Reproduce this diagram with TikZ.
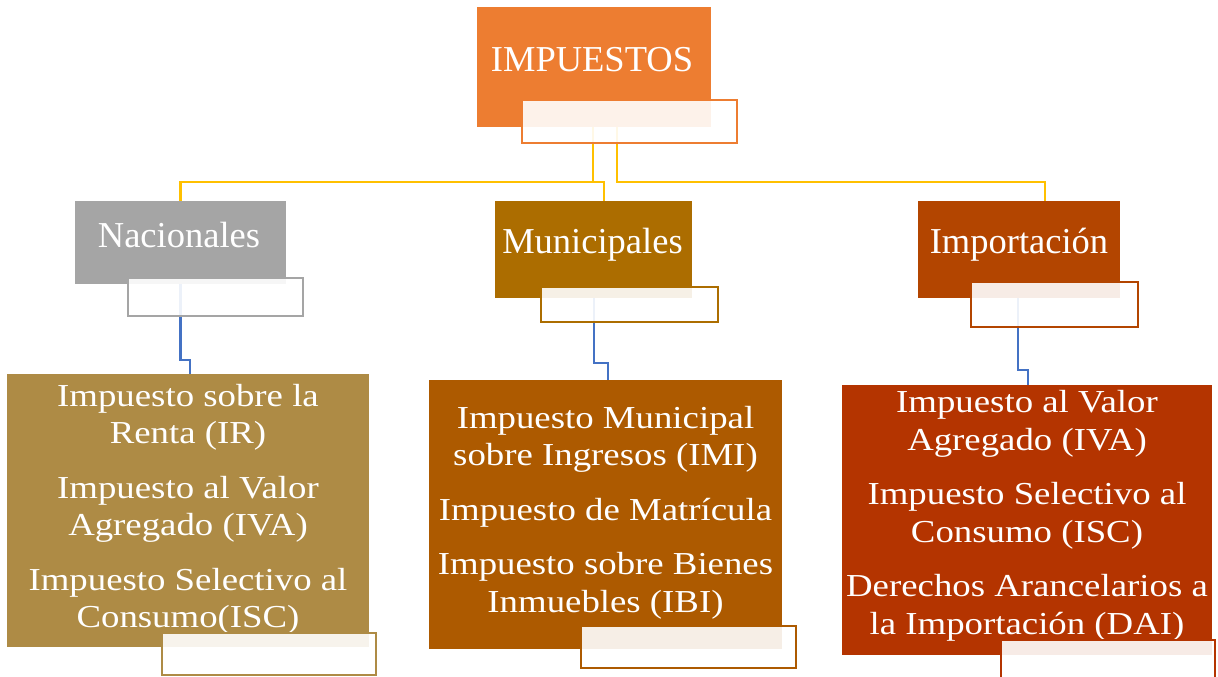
\documentclass[tikz,border=0pt]{standalone}
\usepackage{fontspec}
\setmainfont{Liberation Serif}
\newfontfamily\leaffont[FakeStretch=1.15]{Liberation Serif}
\definecolor{cOrange}{HTML}{ED7D31}
\definecolor{cGray}{HTML}{A5A5A5}
\definecolor{cMun}{HTML}{AC6D00}
\definecolor{cImo}{HTML}{B34500}
\definecolor{cNacL}{HTML}{AE8B45}
\definecolor{cMunL}{HTML}{AD5A00}
\definecolor{cImoL}{HTML}{B43400}
\definecolor{cYel}{HTML}{FFC000}
\definecolor{cBlue}{HTML}{4472C4}
\tikzset{
  bigbox/.style={rectangle, draw=none, fill=#1, inner sep=0pt},
  smallbox/.style={rectangle, draw=#1, line width=2pt, fill=white, fill opacity=0.9, inner sep=0pt},
  toptext/.style={anchor=base, text=white, font=\fontsize{36.5}{40}\selectfont, inner sep=0pt},
  leaftext/.style={inner sep=0pt, text=white, align=center,
     font=\leaffont\fontsize{32}{37.5}\selectfont},
  yline/.style={draw=cYel, line width=2.6pt},
  bline/.style={draw=cBlue, line width=2.4pt},
}
\begin{document}
\begin{tikzpicture}[x=1pt,y=-1pt]
\clip (0,0) rectangle (1218,677);
\fill[white] (0,0) rectangle (1218,677);
% level 0 and 1 boxes
\node[bigbox=cOrange, minimum width=234pt, minimum height=120pt] (imp) at (594,67) {};
\node[bigbox=cGray, minimum width=211pt, minimum height=83pt] (nac) at (180.5,242.5) {};
\node[bigbox=cMun, minimum width=197pt, minimum height=97pt] (mun) at (593.5,249.5) {};
\node[bigbox=cImo, minimum width=202pt, minimum height=97pt] (imo) at (1019,249.5) {};
% leaf boxes
\node[bigbox=cNacL, minimum width=362pt, minimum height=273pt] (nacL) at (188,510.5) {};
\node[bigbox=cMunL, minimum width=353pt, minimum height=269pt] (munL) at (605.5,514.5) {};
\node[bigbox=cImoL, minimum width=370pt, minimum height=270pt] (imoL) at (1027,520) {};
\node[leaftext] (nacLT) at ([yshift=1pt]nacL.center)
  {Impuesto sobre la\\Renta (IR)\\[17pt]Impuesto al Valor\\Agregado (IVA)\\[17pt]Impuesto Selectivo al\\Consumo(ISC)};
\node[leaftext] (munLT) at ([yshift=2pt]munL.center)
  {Impuesto Municipal\\sobre Ingresos (IMI)\\[17pt]Impuesto de Matrícula\\[17pt]Impuesto sobre Bienes\\Inmuebles (IBI)};
\node[leaftext] (imoLT) at ([yshift=4pt]imoL.center)
  {Impuesto al Valor\\Agregado (IVA)\\[17pt]Impuesto Selectivo al\\Consumo (ISC)\\[17pt]Derechos Arancelarios a\\la Importación (DAI)};
% yellow connectors
\draw[yline] ([xshift=-1pt]imp.south) -- ([xshift=-1pt]imp.south |- 0,182) -| (nac.north);
\draw[yline] ([xshift=-1pt]imp.south) -- ([xshift=-1pt]imp.south |- 0,182) -| ([xshift=10.5pt]mun.north);
\draw[yline] ([xshift=23pt]imp.south) -- ([xshift=23pt]imp.south |- 0,182) -| ([xshift=26pt]imo.north);
% blue connectors
\draw[bline] (nac.south) -- (nac.south |- 0,360) -| ([xshift=2pt]nacL.north);
\draw[bline] ([xshift=0.5pt]mun.south) -- ([xshift=0.5pt]mun.south |- 0,363) -| ([xshift=2.5pt]munL.north);
\draw[bline] ([xshift=-1pt]imo.south) -- ([xshift=-1pt]imo.south |- 0,370) -| ([xshift=1pt]imoL.north);
% small overlapping boxes
\node[smallbox=cOrange, minimum width=215pt, minimum height=43pt] (impS) at (629.5,121.5) {};
\node[smallbox=cGray, minimum width=175pt, minimum height=38pt] (nacS) at (215.5,297) {};
\node[smallbox=cMun, minimum width=177pt, minimum height=35pt] (munS) at (629.5,304.5) {};
\node[smallbox=cImo, minimum width=167pt, minimum height=45pt] (imoS) at (1054.5,304.5) {};
\node[smallbox=cNacL, minimum width=214pt, minimum height=42pt] (nacLS) at (269,654) {};
\node[smallbox=cMunL, minimum width=215pt, minimum height=42pt] (munLS) at (688.5,647) {};
\node[smallbox=cImoL, minimum width=214pt, minimum height=60pt] (imoLS) at (1108,670) {};
% texts of top boxes
\node[toptext] (impT) at (592,71) {IMPUESTOS};
\node[toptext] (nacT) at (179,247) {Nacionales};
\node[toptext] (munT) at (592.5,253) {Municipales};
\node[toptext] (imoT) at (1019,253) {Importación};
\end{tikzpicture}
\end{document}
